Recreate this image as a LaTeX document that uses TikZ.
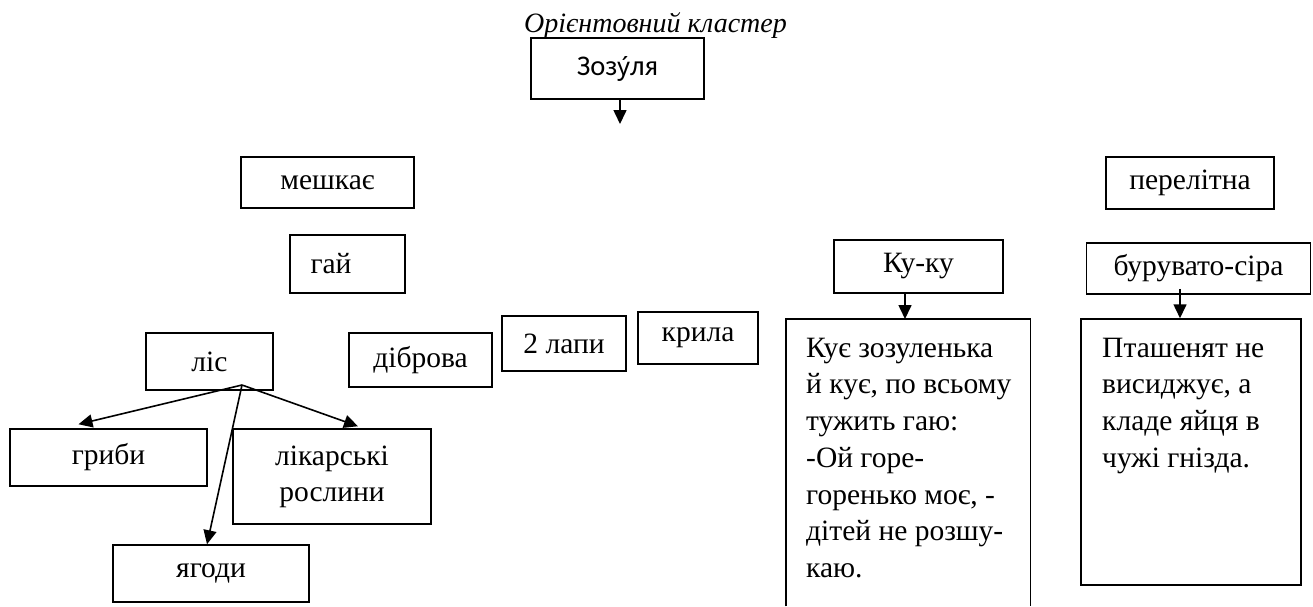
\documentclass[tikz,border=0pt]{standalone}
\usepackage{fontspec}
\setmainfont{Liberation Serif}
\newfontfamily\calibrifont{Carlito}
\newfontfamily\notofont[Scale=0.87]{Noto Sans}
\usetikzlibrary{arrows.meta}
\tikzset{
  box/.style={draw, line width=1.5pt, inner sep=0pt, align=center,
    font=\fontsize{29.5}{36}\selectfont},
  arr/.style={line width=1.6pt, -{Triangle[length=14pt,width=13pt]}},
  para/.style={anchor=north west, inner sep=0pt, align=left,
    font=\fontsize{29.5}{36.7}\selectfont}
}
\begin{document}
\begin{tikzpicture}[x=1pt,y=1pt]
\useasboundingbox (0,0) rectangle (1313,-606);
% title
\node[anchor=base west, inner sep=0pt, font=\fontsize{28}{34}\selectfont\itshape] (title) at (524,-32) {Орієнтовний кластер};
% top node
\node[box, font=\fontsize{28.5}{34}\selectfont\calibrifont, minimum width=173, minimum height=61] (zoz) at (617.5,-68.5) {Зоз{\notofont у́}ля};
\coordinate (zend) at (620,-124);
\draw[arr] ([xshift=2.5pt]zoz.south) -- (zend);
% left cluster
\node[box, minimum width=173, minimum height=51] (mesh) at (327.5,-182.5) {мешкає};
\node[box, minimum width=115, minimum height=58] (gai) at (347.5,-264) {гай\hspace*{33pt}};
\node[box, minimum width=127, minimum height=57] (lis) at (209.5,-361.5) {ліс};
\node[box, minimum width=143, minimum height=54] (dib) at (420.5,-360) {діброва};
\node[box, minimum width=124, minimum height=55] (lapy) at (564,-343.5) {2 лапи};
\node[box, minimum width=120, minimum height=52] (kryla) at (698,-338) {крила};
\node[box, minimum width=197, minimum height=57] (hryby) at (108.5,-457.5) {гриби};
\node[box, minimum width=198, minimum height=95] (likar) at (332,-476.5) {лікарські\\рослини};
\node[box, minimum width=196, minimum height=57] (yahody) at (211,-573.5) {ягоди};
\coordinate (lisroot) at (242,-385);
\draw[arr] (lisroot) -- ([shift={(-30pt,4pt)}]hryby.north);
\draw[arr] (lisroot) -- ([shift={(26pt,2pt)}]likar.north);
\draw[arr] (lisroot) -- ([xshift=-4pt]yahody.north);
% right cluster
\node[box, minimum width=168, minimum height=52] (perel) at (1190,-183) {перелітна};
\node[box, minimum width=169, minimum height=53] (kuku) at (918.5,-266.5) {Ку-ку};
\node[box, minimum width=224, minimum height=51] (buru) at (1198.5,-268.5) {бурувато-сіра};
% big box 1 (open at the bottom edge)
\node[inner sep=0pt, minimum width=244, minimum height=287, anchor=north west] (big1) at (786,-319) {};
\draw[line width=1.5pt] (big1.south west) -- (big1.north west) -- (big1.north east) -- (big1.south east);
\node[para] (txt1) at (806,-331.3) {\strut Кує зозуленька\\й кує, по всьому\\тужить гаю:\\-Ой горе-\\горенько моє, -\\дітей не розшу-\\каю.};
% big box 2
\node[box, minimum width=220, minimum height=266] (big2) at (1191,-452) {};
\node[para] (txt2) at (1102,-331.3) {\strut Пташенят не\\висиджує, а\\кладе яйця в\\чужі гнізда.};
\draw[arr] ([xshift=-13.5pt]kuku.south) -- ([xshift=-13.5pt]kuku.south |- big1.north);
\draw[arr] ([shift={(-18.5pt,6pt)}]buru.south) -- ([xshift=-18.5pt]buru.south |- big2.north);
\end{tikzpicture}
\end{document}
